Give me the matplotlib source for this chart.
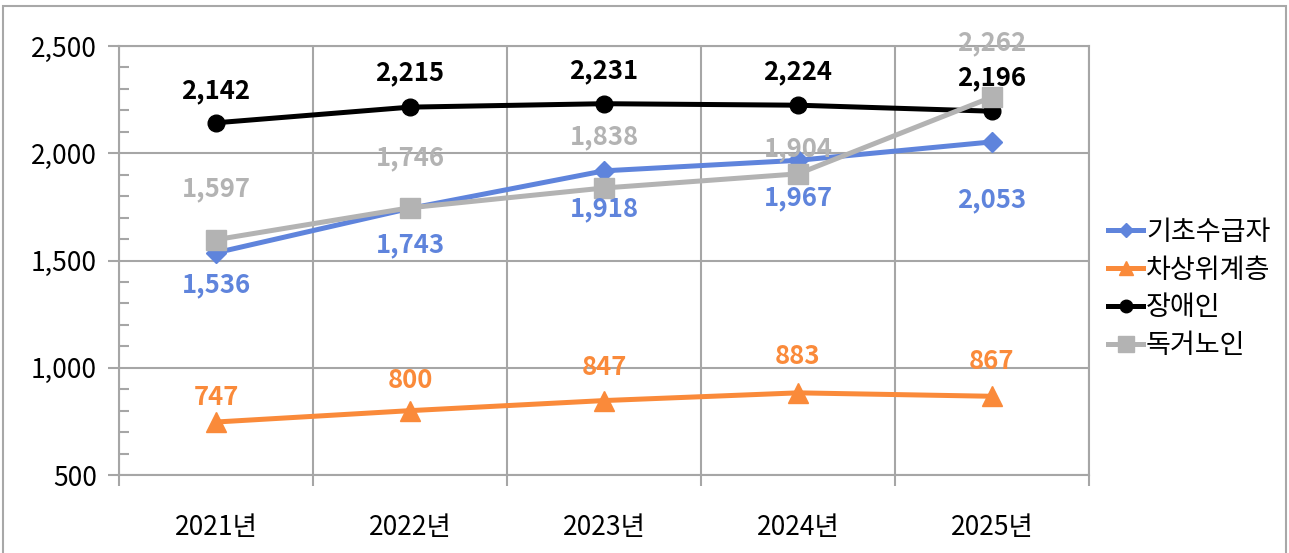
import matplotlib
matplotlib.use("Agg")
import matplotlib.pyplot as plt
from matplotlib.patches import Rectangle
from matplotlib.ticker import MultipleLocator, FuncFormatter

years = ["2021년", "2022년", "2023년", "2024년", "2025년"]
series_names = ["기초수급자", "차상위계층", "장애인", "독거노인"]
basic = [1536, 1743, 1918, 1967, 2053]
near_poor = [747, 800, 847, 883, 867]
disabled = [2142, 2215, 2231, 2224, 2196]
elderly_alone = [1597, 1746, 1838, 1904, 2262]

# style per series: color, marker, marker size, label offsets (points, + = up)
styles = [
    ("#5f84dc", "D", 10, [-23, -26, -27, -27, -42]),
    ("#fa8a3a", "^", 14, [18, 22, 24, 26, 25]),
    ("#000000", "o", 12, [23, 25, 24, 24, 24]),
    ("#b3b3b3", "s", 15, [37, 36, 37, 18, 39]),
]

plt.rcParams["font.family"] = ["Noto Sans CJK KR", "DejaVu Sans"]

fig = plt.figure(figsize=(12.89, 5.53), dpi=100)
ax = fig.add_axes([119 / 1289, 1 - 475 / 553, 970 / 1289, 429 / 553])

fig.patches.append(
    Rectangle((3 / 1289, -0.05), 1283 / 1289, 1 - 6 / 553 + 0.05,
              transform=fig.transFigure, fill=False, edgecolor="#a8a8a8", linewidth=1.5)
)

x = list(range(len(years)))
for name, values, (color, marker, ms, offsets) in zip(
        series_names, [basic, near_poor, disabled, elderly_alone], styles):
    ax.plot(x, values, color=color, linewidth=3.6, marker=marker, markersize=ms,
            markeredgecolor=color, label=name, solid_joinstyle="round")
    for xi, v, dy in zip(x, values, offsets):
        ax.annotate(f"{v:,}", (xi, v), xytext=(0, dy), textcoords="offset points",
                    ha="center", va="center", fontsize=18.5, fontweight="bold",
                    color=color)

ax.set_xlim(-0.5, len(years) - 0.5)
ax.set_ylim(500, 2500)
ax.yaxis.set_major_locator(MultipleLocator(500))
ax.yaxis.set_minor_locator(MultipleLocator(100))
ax.yaxis.set_major_formatter(FuncFormatter(lambda v, p: f"{int(v):,}"))

ax.set_xticks([i - 0.5 for i in range(len(years) + 1)])
ax.set_xticklabels([])
ax.set_xticks(x, minor=True)
ax.set_xticklabels(years, minor=True)

grid_color = "#a6a6a6"
ax.grid(True, which="major", color=grid_color, linewidth=1.5)
for s in ax.spines.values():
    s.set_color(grid_color)
    s.set_linewidth(1.5)
ax.tick_params(axis="y", which="major", direction="out", length=8, width=1.5,
               color=grid_color, labelsize=19, pad=8)
ax.tick_params(axis="y", which="minor", direction="in", length=7, width=1.5,
               color=grid_color)
ax.tick_params(axis="x", which="major", direction="out", length=8, width=1.5,
               color=grid_color)
ax.tick_params(axis="x", which="minor", length=0, labelsize=19, pad=28)
ax.set_axisbelow(True)

ax.legend(loc="center left", bbox_to_anchor=(1108 / 1289, 1 - 289 / 553),
          bbox_transform=fig.transFigure, frameon=False, fontsize=19.5,
          handlelength=1.3, handletextpad=0.1, labelspacing=0.4,
          markerscale=0.75, borderaxespad=0, borderpad=0)

fig.savefig("out.png", dpi=100)
